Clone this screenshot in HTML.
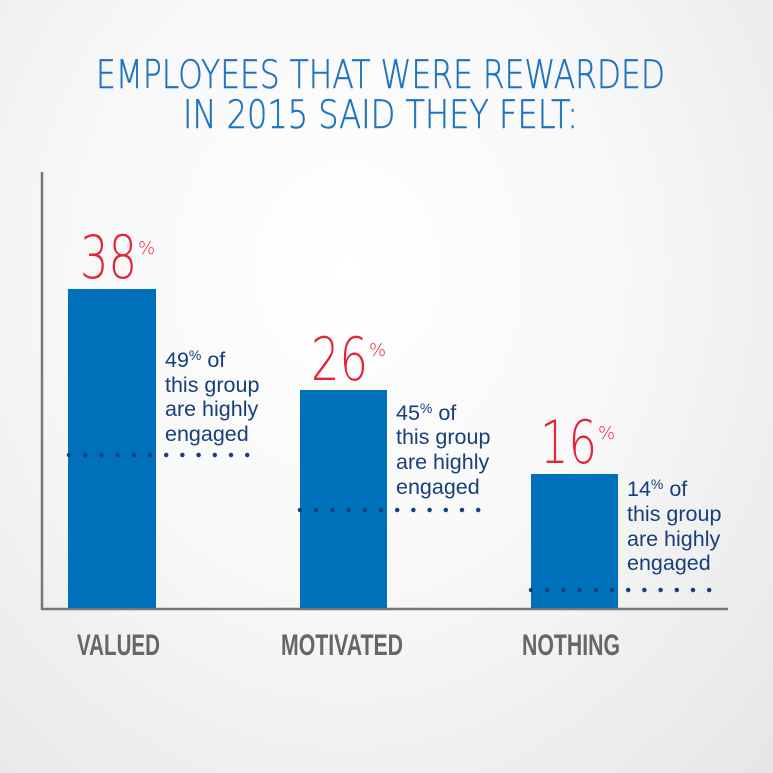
<!DOCTYPE html>
<html><head><meta charset="utf-8"><style>
html,body{margin:0;padding:0}
body{width:773px;height:773px;overflow:hidden;background:radial-gradient(ellipse at 45% 35%,#ffffff 0%,#f8f8f8 45%,#e6e6e6 100%)}
svg{display:block}
</style></head><body>
<svg width="773" height="773" xmlns="http://www.w3.org/2000/svg" font-family="Liberation Sans, sans-serif">
<g font-family="DejaVu Sans ExtraLight, DejaVu Sans Light, Liberation Sans, sans-serif" font-weight="200">
<text x="96" y="88" font-size="39" fill="#1f74c2" stroke="#1f74c2" stroke-width="0.5" textLength="569" lengthAdjust="spacingAndGlyphs">EMPLOYEES THAT WERE REWARDED</text>
<text x="183" y="128" font-size="39" fill="#1f74c2" stroke="#1f74c2" stroke-width="0.5" textLength="395" lengthAdjust="spacingAndGlyphs">IN 2015 SAID THEY FELT:</text>
</g>
<line x1="42" y1="172" x2="42" y2="610" stroke="#777" stroke-width="2.5"/>
<line x1="41" y1="609" x2="728" y2="609" stroke="#777" stroke-width="2.5"/>
<rect x="68" y="289" width="88" height="319" fill="#0070bb"/>
<rect x="300" y="390" width="87" height="218" fill="#0070bb"/>
<rect x="531" y="474" width="87" height="134" fill="#0070bb"/>
<g fill="#e3243b" font-family="DejaVu Sans ExtraLight, DejaVu Sans Light, Liberation Sans, sans-serif" font-weight="200">
<text x="80" y="278" font-size="60" textLength="57" lengthAdjust="spacingAndGlyphs">38</text>
<text x="138" y="254" font-size="18">%</text>
<text x="311" y="380" font-size="60" textLength="57" lengthAdjust="spacingAndGlyphs">26</text>
<text x="369" y="356" font-size="18">%</text>
<text x="540" y="463" font-size="60" textLength="57" lengthAdjust="spacingAndGlyphs">16</text>
<text x="598" y="439" font-size="18">%</text>
</g>
<g fill="#173f7a" font-size="21.5">
<text x="165" y="367">49<tspan font-size="14" dy="-7">%</tspan><tspan dy="7"> of</tspan></text>
<text x="165" y="392">this group</text>
<text x="165" y="416">are highly</text>
<text x="165" y="441">engaged</text>
<text x="396" y="420">45<tspan font-size="14" dy="-7">%</tspan><tspan dy="7"> of</tspan></text>
<text x="396" y="444">this group</text>
<text x="396" y="469">are highly</text>
<text x="396" y="494">engaged</text>
<text x="627" y="496">14<tspan font-size="14" dy="-7">%</tspan><tspan dy="7"> of</tspan></text>
<text x="627" y="521">this group</text>
<text x="627" y="546">are highly</text>
<text x="627" y="570">engaged</text>
</g>
<line x1="69" y1="455" x2="250" y2="455" stroke="#173f7a" stroke-width="4.5" stroke-linecap="round" stroke-dasharray="0 16.2"/>
<line x1="300" y1="510" x2="481" y2="510" stroke="#173f7a" stroke-width="4.5" stroke-linecap="round" stroke-dasharray="0 16.2"/>
<line x1="531" y1="590" x2="712" y2="590" stroke="#173f7a" stroke-width="4.5" stroke-linecap="round" stroke-dasharray="0 16.2"/>
<g fill="#666" font-size="30" font-weight="bold">
<text x="77" y="655" textLength="83" lengthAdjust="spacingAndGlyphs">VALUED</text>
<text x="281" y="655" textLength="122" lengthAdjust="spacingAndGlyphs">MOTIVATED</text>
<text x="522" y="655" textLength="98" lengthAdjust="spacingAndGlyphs">NOTHING</text>
</g>
</svg>
</body></html>
